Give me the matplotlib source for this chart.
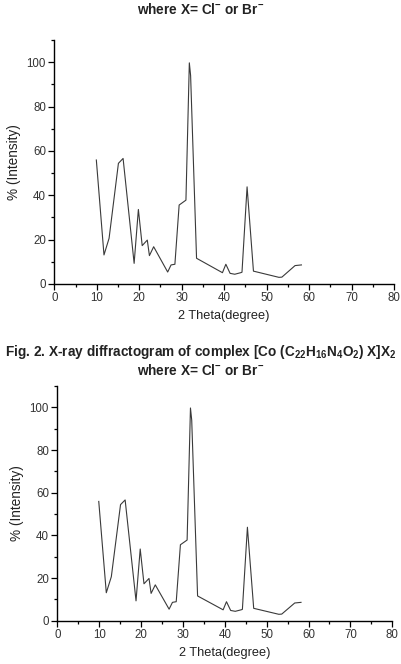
import matplotlib
matplotlib.use("Agg")
import matplotlib.pyplot as plt
from matplotlib.ticker import MultipleLocator

plt.rcParams['font.family'] = ['Liberation Sans', 'DejaVu Sans']
plt.rcParams['mathtext.fontset'] = 'custom'
plt.rcParams['mathtext.rm'] = 'Liberation Sans'
plt.rcParams['mathtext.bf'] = 'Liberation Sans:bold'
plt.rcParams['mathtext.it'] = 'Liberation Sans:italic'

# Data
two_theta = [9.9, 11.7, 12.9, 15.1, 16.2, 18.8, 19.8, 20.7, 21.9, 22.4, 23.4,
             26.7, 27.5, 28.4, 29.4, 31.0, 31.8, 32.1, 33.5, 39.6, 40.4, 41.4,
             42.5, 43.9, 44.2, 45.4, 46.9, 52.9, 53.6, 56.7, 58.2]
intensity = [55.9, 13.1, 20.6, 54.4, 56.6, 9.3, 33.6, 17.3, 19.8, 12.8, 16.8,
             5.4, 8.6, 8.9, 35.6, 37.8, 99.7, 94.0, 11.6, 5.1, 8.9, 4.8,
             4.4, 5.1, 5.3, 43.8, 5.8, 3.0, 3.1, 8.3, 8.6]

x_ticks = [0, 10, 20, 30, 40, 50, 60, 70, 80]
y_ticks = [0, 20, 40, 60, 80, 100]
x_label = "2 Theta(degree)"
y_label = "% (Intensity)"

W, H = 402, 664
fig = plt.figure(figsize=(W / 100, H / 100), dpi=100)

def make_axes(rect):
    ax = fig.add_axes(rect)
    ax.plot(two_theta, intensity, color='#3a3a3a', lw=0.8)
    ax.set_xlim(0, 80)
    ax.set_ylim(0, 110)
    ax.set_xticks(x_ticks)
    ax.set_yticks(y_ticks)
    ax.xaxis.set_minor_locator(MultipleLocator(5))
    ax.yaxis.set_minor_locator(MultipleLocator(10))
    for s in ['top', 'right']:
        ax.spines[s].set_visible(False)
    for s in ['left', 'bottom']:
        ax.spines[s].set_linewidth(1.0)
        ax.spines[s].set_color('black')
    ax.tick_params(which='major', direction='out', length=4, width=0.9,
                   labelsize=8.3, labelcolor='#333333', pad=2)
    ax.tick_params(which='minor', direction='out', length=2.5, width=0.9)
    ax.set_xlabel(x_label, fontsize=9.2, color='#222222', labelpad=4)
    ax.set_ylabel(y_label, fontsize=9.8, color='#222222', labelpad=4)
    return ax

# top axes
l1 = 54.3 / W; r1 = 394 / W; b1 = (H - 284) / H; t1 = (H - 40) / H
make_axes([l1, b1, r1 - l1, t1 - b1])
# bottom axes
l2 = 57.3 / W; r2 = 392.3 / W; b2 = (H - 620.7) / H; t2 = (H - 386) / H
make_axes([l2, b2, r2 - l2, t2 - b2])

cap_kw = dict(ha='center', va='center', fontsize=9.8, fontweight='bold', color='#222222')
fig.text(0.5, 1 - 10 / H, r"where X= Cl$^{\mathbf{-}}$ or Br$^{\mathbf{-}}$", **cap_kw)
fig.text(0.5, 1 - 352 / H,
         r"Fig. 2. X-ray diffractogram of complex [Co (C$_{\mathbf{22}}$H$_{\mathbf{16}}$N$_{\mathbf{4}}$O$_{\mathbf{2}}$) X]X$_{\mathbf{2}}$",
         **cap_kw)
fig.text(0.5, 1 - 371 / H, r"where X= Cl$^{\mathbf{-}}$ or Br$^{\mathbf{-}}$", **cap_kw)

fig.savefig("out.png", dpi=100)
